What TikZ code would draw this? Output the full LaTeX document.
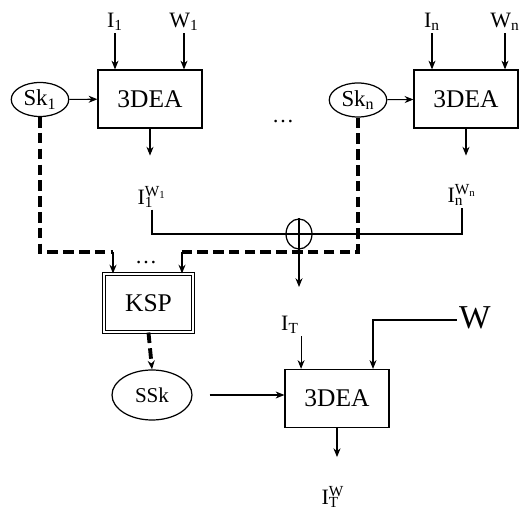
\documentclass[tikz,border=0pt]{standalone}
\usepackage{fontspec}
\setmainfont{Liberation Serif}
\usepackage{tikz}
\usetikzlibrary{arrows.meta,positioning,shapes.geometric}

% base with subscript and superscript stacked
\newcommand{\supsub}[3]{#1\makebox[0pt][l]{\textsubscript{#2}}\textsuperscript{#3}}

\begin{document}
\begin{tikzpicture}[x=0.02cm,y=-0.02cm,
  box/.style={draw,line width=0.7pt,minimum width=2.08cm,minimum height=1.16cm,
    inner sep=0pt,font=\fontsize{14.5}{16}\selectfont},
  kspbox/.style={box,double,double distance=1pt,line width=0.6pt,minimum width=1.78cm},
  key/.style={draw,ellipse,line width=0.7pt,minimum width=1.15cm,minimum height=0.68cm,
    inner sep=0pt,font=\fontsize{13}{15}\selectfont},
  xorc/.style={draw,ellipse,line width=0.7pt,minimum width=0.52cm,minimum height=0.6cm,inner sep=0pt},
  lbl/.style={inner sep=1pt,font=\fontsize{12.5}{14}\selectfont},
  dsh/.style={line width=2.2pt,dash pattern=on 6pt off 3pt},
  >={Stealth[length=5pt,width=4pt]},line width=0.6pt
]
\useasboundingbox (0,0) rectangle (521,509);
%% first encoder
\node[box] (box1) at (150,99) {3DEA};
\node[key] (sk1) at (40,99.5) {Sk\textsubscript{1}};
\node[lbl] (i1) at (115,22) {I\textsubscript{1}};
\node[lbl] (w1) at (184,22) {W\textsubscript{1}};
\node[lbl] (o1) at (152,197) {\supsub{I}{1}{W\textsubscript{1}}};
\draw[->] (sk1) -- (box1);
\draw[->] (i1) -- (i1 |- box1.north);
\draw[->] (w1) -- (w1 |- box1.north);
\draw[->] (box1.south) -- ++(0,27);
%% n-th encoder
\node[box] (boxn) at (466,99) {3DEA};
\node[key] (skn) at (358,100) {Sk\textsubscript{n}};
\node[lbl] (in) at (432,22) {I\textsubscript{n}};
\node[lbl] (wn) at (505,22) {W\textsubscript{n}};
\node[lbl] (on) at (462,195) {\supsub{I}{n}{W\textsubscript{n}}};
\node[lbl] (dots1) at (283,122) {\dots};
\draw[->] (skn) -- (boxn);
\draw[->] (in) -- (in |- boxn.north);
\draw[->] (wn) -- (wn |- boxn.north);
\draw[->] (boxn.south) -- ++(0,27);
%% xor of the shares
\node[xorc] (xor) at (299,234) {};
\coordinate (xtip) at (299,287);
\draw (o1.south) |- (xor.center) -| (on.south);
\draw (xor.north) -- (xor.center);
\draw[->] (xor.center) -- (xtip);
%% key share processing
\node[kspbox] (ksp) at (148.5,303) {KSP};
\node[key,minimum width=1.6cm,minimum height=1cm,font=\fontsize{12}{14}\selectfont]
  (ssk) at (152,395) {SSk};
\node[lbl] (dots2) at (146,263) {\dots};
\coordinate (ka) at (113,252);
\coordinate (kb) at (182,252);
\draw[dsh] (sk1.south) |- (ka);
\draw[->] (ka) -- (ka |- ksp.north);
\draw[dsh] (skn.south) |- (kb);
\draw[->] (kb) -- (kb |- ksp.north);
\draw[dsh,->] (ksp.south) -- (ssk.north);
%% final encoder
\node[box] (box3) at (337,398.5) {3DEA};
\node[lbl] (it) at (290,325) {I\textsubscript{T}};
\node[lbl,font=\fontsize{19}{21}\selectfont] (w) at (475,318) {W};
\node[lbl] (itw) at (333,497) {\supsub{I}{T}{W}};
\coordinate (wbend) at (373,320);
\draw[->] (it.south east) -- (it.south east |- box3.north);
\draw[->] (w.west |- wbend) -- (wbend) -- (wbend |- box3.north);
\draw[->,shorten <=0.34cm] (ssk.east) -- (ssk.east -| box3.west);
\draw[->] (box3.south) -- ++(0,29);
\end{tikzpicture}
\end{document}
